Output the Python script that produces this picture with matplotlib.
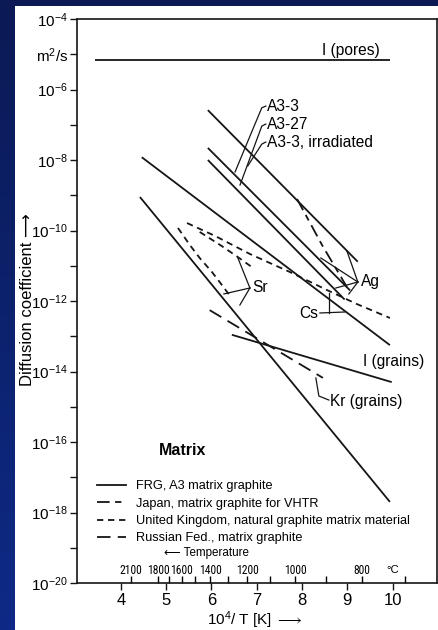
import numpy as np
import matplotlib
matplotlib.use("Agg")
import matplotlib.pyplot as plt
from matplotlib.lines import Line2D
from matplotlib.ticker import FixedLocator, NullLocator
from matplotlib.colors import LinearSegmentedColormap
import matplotlib.transforms as mtransforms
from matplotlib import font_manager as fm

plt.rcParams['font.family'] = ['Liberation Sans', 'DejaVu Sans']
plt.rcParams['mathtext.fontset'] = 'custom'
plt.rcParams['mathtext.rm'] = 'Liberation Sans'
plt.rcParams['mathtext.it'] = 'Liberation Sans:italic'
plt.rcParams['mathtext.bf'] = 'Liberation Sans:bold'
plt.rcParams['mathtext.fallback'] = 'stixsans'

# ---------------- data (x = 10^4/T [K], D in m^2/s) ----------------
pores_x = [3.43, 9.94]
pores_D = [6.9e-6, 6.9e-6]

a33_x = [5.92, 9.23]
a33_D = [2.6e-7, 1.3e-11]
a327_x = [5.92, 9.06]
a327_D = [2.2e-8, 2.0e-12]
a33irr_x = [5.92, 8.94]
a33irr_D = [1.0e-8, 1.1e-12]

frg_cs_x = [4.46, 9.94]
frg_cs_D = [1.2e-8, 5.6e-14]
frg_sr_x = [4.42, 9.94]
frg_sr_D = [8.9e-10, 2.0e-18]
igrains_x = [6.45, 9.98]
igrains_D = [1.1e-13, 5.0e-15]

jp_ag_x = [7.89, 8.44, 8.99]
jp_ag_D = [7.8e-10, 3.9e-11, 2.5e-12]

uk_cs_x = [5.46, 6.08, 6.85, 7.73, 8.55, 9.21, 9.94]
uk_cs_D = [1.63e-10, 7.0e-11, 2.15e-11, 6.65e-12, 2.05e-12, 8.2e-13, 3.3e-13]
uk_sr1_x = [5.74, 6.23, 6.58, 6.89]
uk_sr1_D = [9.1e-11, 3.6e-11, 1.77e-11, 9.2e-12]
uk_sr2_x = [5.26, 5.52, 5.74, 6.01, 6.23, 6.41]
uk_sr2_D = [1.18e-10, 3.9e-11, 1.66e-11, 6.65e-12, 2.85e-12, 1.39e-12]

ru_kr_x = [5.96, 8.46]
ru_kr_D = [5.5e-13, 6.6e-15]

x_ticks = [4, 5, 6, 7, 8, 9, 10]
y_exponents = list(range(-20, -3))
temp_C = [2100, 1800, 1700, 1600, 1500, 1400, 1300, 1200, 1100, 1000, 900, 800, 700]
temp_labels = ['2100', '1800', '', '1600', '', '1400', '', '1200', '', '1000', '', '800', '']

legend_labels = ['FRG, A3 matrix graphite',
                 'Japan, matrix graphite for VHTR',
                 'United Kingdom, natural graphite matrix material',
                 'Russian Fed., matrix graphite']

# ---------------- styles ----------------
LC = '#151515'
LW = 1.3
ST_FRG = '-'
ST_JP = (0, (7, 3, 3.5, 3))
ST_UK = (0, (3.5, 2.6))
ST_RU = (0, (7.5, 4))

# pick a condensed face for the small temperature scale if one is installed
_installed = {(f.name, f.stretch) for f in fm.fontManager.ttflist}
NARROW, NARROW_STRETCH, TEMP_FS = ['Liberation Sans', 'DejaVu Sans'], 'normal', 7.4
for fam in ['Liberation Sans Narrow', 'Roboto Condensed', 'DejaVu Sans Condensed',
            'Open Sans Condensed']:
    if any(n == fam for n, _ in _installed):
        NARROW, TEMP_FS = [fam, 'DejaVu Sans'], 8.4
        break
else:
    if any(n == 'DejaVu Sans' and st in ('condensed', 'semi-condensed', 500, 600) for n, st in _installed):
        NARROW, NARROW_STRETCH, TEMP_FS = ['DejaVu Sans'], 'condensed', 7.6

fig = plt.figure(figsize=(4.39, 6.30), dpi=100, facecolor='white')

# navy frame strips
bg = fig.add_axes([0, 0, 15/439, 1])
grad = np.linspace(0, 1, 256).reshape(-1, 1)
cmap = LinearSegmentedColormap.from_list('nv', ['#0b1a55', '#0e2a86'])
bg.imshow(grad, aspect='auto', cmap=cmap, extent=[0, 1, 0, 1], origin='upper')
bg.set_axis_off()
top = fig.add_axes([0, 1 - 6/630, 1, 6/630])
top.set_facecolor('#0b1a55')
top.set_xticks([]); top.set_yticks([])
for s in top.spines.values():
    s.set_visible(False)

ax = fig.add_axes([77/439, 47/630, 360/439, 564/630])
ax.set_yscale('log')
ax.set_xlim(3.03, 10.98)
ax.set_ylim(1e-20, 1e-4)

def L(x, y, ls, lw=LW):
    ax.plot(x, y, color=LC, lw=lw, ls=ls, solid_capstyle='butt', dash_capstyle='butt')

L(pores_x, pores_D, ST_FRG)
L(a33_x, a33_D, ST_FRG)
L(a327_x, a327_D, ST_FRG)
L(a33irr_x, a33irr_D, ST_FRG)
L(frg_cs_x, frg_cs_D, ST_FRG)
L(frg_sr_x, frg_sr_D, ST_FRG)
L(igrains_x, igrains_D, ST_FRG)
L(jp_ag_x, jp_ag_D, ST_JP)
L(uk_cs_x, uk_cs_D, ST_UK)
L(uk_sr1_x, uk_sr1_D, ST_UK)
L(uk_sr2_x, uk_sr2_D, ST_UK)
L(ru_kr_x, ru_kr_D, ST_RU)

# ---------------- annotations (leader lines) ----------------
def lead(pts, lw=0.9):
    xs = [p[0] for p in pts]
    ys = [10 ** p[1] for p in pts]
    ax.plot(xs, ys, color=LC, lw=lw)

fs_lab = 11.2
lead([(7.20, -6.47), (7.11, -6.52), (6.52, -8.34)])
lead([(7.20, -6.98), (7.11, -7.04), (6.63, -8.71)])
lead([(7.20, -7.49), (7.11, -7.55), (6.80, -8.17)])
ax.text(7.22, 10 ** -6.47, 'A3-3', fontsize=fs_lab, va='center', ha='left')
ax.text(7.22, 10 ** -6.98, 'A3-27', fontsize=fs_lab, va='center', ha='left')
ax.text(7.22, 10 ** -7.49, 'A3-3, irradiated', fontsize=fs_lab, va='center', ha='left')

for end in [(8.99, -10.58), (8.415, -10.78), (8.746, -11.631), (9.033, -11.80)]:
    lead([(9.232, -11.461), end])
ax.text(9.30, 10 ** -11.46, 'Ag', fontsize=fs_lab, va='center', ha='left')

lead([(8.393, -12.34), (8.945, -12.312)])
lead([(8.592, -11.773), (8.592, -12.34)])
ax.text(8.36, 10 ** -12.36, 'Cs', fontsize=fs_lab, va='center', ha='right')

for end in [(6.583, -10.78), (6.274, -11.80), (6.627, -12.113)]:
    lead([(6.848, -11.631), end])
ax.text(6.90, 10 ** -11.63, 'Sr', fontsize=fs_lab, va='center', ha='left')

lead([(8.592, -14.81), (8.371, -14.695), (8.305, -14.184)])
ax.text(8.62, 10 ** -14.84, 'Kr (grains)', fontsize=fs_lab, va='center', ha='left')
ax.text(9.34, 10 ** -13.73, 'I (grains)', fontsize=fs_lab, va='center', ha='left')
ax.text(8.44, 10 ** -4.88, 'I (pores)', fontsize=fs_lab, va='center', ha='left')

ax.text(5.37, 10 ** -16.23, 'Matrix', fontsize=11.5, fontweight='bold', va='center', ha='center')

# legend
handles = [Line2D([], [], color=LC, lw=LW, ls=s) for s in (ST_FRG, ST_JP, ST_UK, ST_RU)]
leg = ax.legend(handles, legend_labels, loc='upper left', bbox_to_anchor=(0.055, 0.182),
                frameon=False, fontsize=9.2, handlelength=2.3, handletextpad=0.75,
                labelspacing=0.42, borderpad=0, borderaxespad=0)

# temperature annotation
ax.text(5.88, 10 ** -19.15, '\u27f5 Temperature', fontsize=8.4, ha='center', va='center')
trans = mtransforms.blended_transform_factory(ax.transData, ax.transAxes)
ax.text(10.0, 0.023, '\u00b0C', fontsize=8.2, ha='center', va='center', transform=trans)

# ---------------- axes / ticks ----------------
ax.xaxis.set_major_locator(FixedLocator(x_ticks))
ax.set_xticklabels([str(v) for v in x_ticks])
temp_pos = [1e4 / (t + 273.15) for t in temp_C]
ax.set_xticks(temp_pos, labels=temp_labels, minor=True)

ax.yaxis.set_major_locator(FixedLocator([10.0 ** e for e in y_exponents]))
ax.yaxis.set_minor_locator(NullLocator())
ylabels = []
for e in y_exponents:
    if e % 2 == 0:
        ylabels.append(r'$\mathregular{10^{%d}}$' % e)
    elif e == -5:
        ylabels.append(r'$\mathregular{m^2/s}$')
    else:
        ylabels.append('')
ax.set_yticklabels(ylabels)

ax.tick_params(axis='both', which='major', direction='out', length=5, width=1.0, color=LC)
ax.tick_params(axis='x', which='major', labelsize=12, pad=2)
ax.tick_params(axis='y', which='major', labelsize=11, pad=1.5)
ax.tick_params(axis='x', which='minor', direction='in', length=5, width=1.0,
               labelsize=TEMP_FS, pad=-14)
for lab in ax.xaxis.get_minorticklabels():
    lab.set_family(NARROW)
    lab.set_stretch(NARROW_STRETCH)

for s in ax.spines.values():
    s.set_linewidth(1.2)
    s.set_color(LC)

ax.set_xlabel('$\\mathregular{10^4}$/ T [K] $\\longrightarrow$', fontsize=11)
ax.xaxis.set_label_coords(0.494, -0.046)
ax.set_ylabel('Diffusion coefficient \u27f6', fontsize=12)
ax.yaxis.set_label_coords(-0.118, 0.502)

fig.savefig('out.png', dpi=100, facecolor='white')
